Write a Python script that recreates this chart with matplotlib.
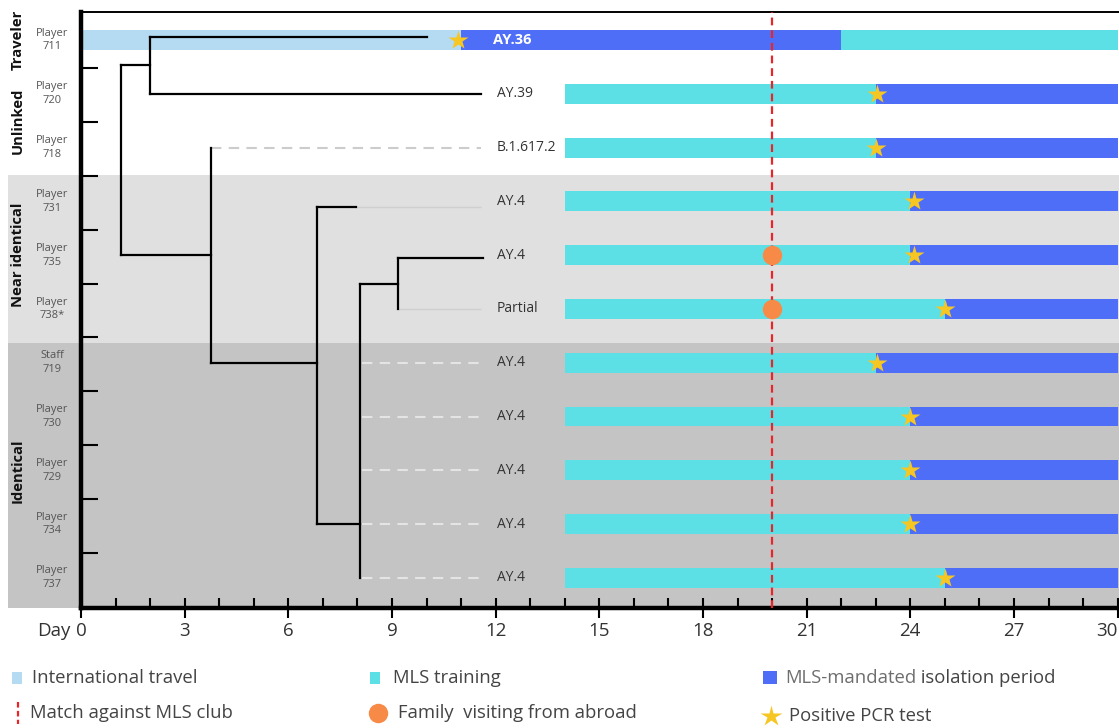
import numpy as np
import matplotlib
matplotlib.use('Agg')
import matplotlib.pyplot as plt
from matplotlib.patches import Rectangle

plt.rcParams['font.family'] = ['Open Sans', 'DejaVu Sans']

# samples, top to bottom
samples = ['Player\n711', 'Player\n720', 'Player\n718', 'Player\n731', 'Player\n735',
           'Player\n738*', 'Staff\n719', 'Player\n730', 'Player\n729', 'Player\n734', 'Player\n737']
lineages = ['AY.36', 'AY.39', 'B.1.617.2', 'AY.4', 'AY.4', 'Partial',
            'AY.4', 'AY.4', 'AY.4', 'AY.4', 'AY.4']

groups = ['Traveler', 'Unlinked', 'Near identical', 'Identical']
group_rows = [[0], [1, 2], [3, 4, 5], [6, 7, 8, 9, 10]]

# timeline (days)
travel_row = [0]
travel_start = [0]
travel_end = [11]
training_start = [22, 14, 14, 14, 14, 14, 14, 14, 14, 14, 14]
training_end = [30, 23, 23, 24, 24, 25, 23, 24, 24, 24, 25]
isolation_start = [11, 23, 23, 24, 24, 25, 23, 24, 24, 24, 25]
isolation_end = [22, 30, 30, 30, 30, 30, 30, 30, 30, 30, 30]
pcr_day = [10.9, 23.05, 23.0, 24.1, 24.1, 25.0, 23.05, 24.0, 24.0, 24.0, 25.0]
family_rows = [4, 5]
family_day = [20, 20]
match_day = 20

# tree: horizontal branches (y, x0, x1) and vertical joins (x, y0, y1)
h_y = [-0.05, 1, 0.47, 4.0, 6.0, 3.1, 9.0, 4.53, 4.05]
h_x0 = [2.0, 2.0, 1.17, 1.17, 3.75, 6.83, 6.83, 8.07, 9.17]
h_x1 = [10.0, 11.58, 2.0, 3.75, 6.83, 7.96, 8.07, 9.17, 11.62]
v_x = [2.0, 1.17, 3.75, 6.83, 8.07, 9.17]
v_y0 = [-0.05, 0.47, 2, 3.1, 4.53, 4.05]
v_y1 = [1, 4.0, 6, 9, 10, 5]
# unresolved leaves
faint_y = [3.1, 5]
faint_x0 = [7.96, 9.17]
faint_x1 = [11.58, 11.58]
dash_y = [2, 6, 7, 8, 9, 10]
dash_x0 = [3.75, 8.12, 8.12, 8.12, 8.12, 8.12]
dash_x1 = [11.58, 11.58, 11.58, 11.58, 11.58, 11.58]
dash_col = ['#cccccc', '#e4e4e4', '#e4e4e4', '#e4e4e4', '#e4e4e4', '#e4e4e4']

C_TRAVEL = '#b4dbf1'
C_TRAIN = '#5ce0e6'
C_ISO = '#4f6ef7'
C_STAR = '#f6c623'
C_FAMILY = '#f88a48'
C_MATCH = '#e8262a'

W, H = 1119, 728
fig = plt.figure(figsize=(W / 100, H / 100), dpi=100)
ax = fig.add_axes([81 / W, 1 - 608 / H, 1 - 81 / W, 596 / H])
ax.set_xlim(0, 30.04)
ax.set_ylim(10.56, -0.52)

# background bands
ax.axhspan(2.51, 5.63, xmin=-0.0705, xmax=1, color='#e0e0e0', lw=0, zorder=0, clip_on=False)
ax.axhspan(5.63, 10.56, xmin=-0.0705, xmax=1, color='#c4c4c4', lw=0, zorder=0, clip_on=False)

rows = np.arange(len(samples))
bh = 0.37
ax.barh(travel_row, np.subtract(travel_end, travel_start), left=travel_start,
        height=bh, color=C_TRAVEL, zorder=2)
ax.barh(rows, np.subtract(training_end, training_start), left=training_start,
        height=bh, color=C_TRAIN, zorder=2)
ax.barh(rows, np.subtract(isolation_end, isolation_start), left=isolation_start,
        height=bh, color=C_ISO, zorder=2)

ax.axvline(match_day, color=C_MATCH, lw=1.6, ls=(0, (3.5, 2.2)), zorder=3)
ax.plot(family_day, family_rows, 'o', ms=14, color=C_FAMILY, mec='none', zorder=4)
ax.plot(pcr_day, rows, '*', ms=15, color=C_STAR, mec='none', zorder=5)

# tree
ax.hlines(faint_y, faint_x0, faint_x1, color='#cfcfcf', lw=1.0, zorder=3)
for y, x0, x1, c in zip(dash_y, dash_x0, dash_x1, dash_col):
    ax.plot([x0, x1], [y, y], color=c, lw=1.5, ls=(0, (5, 3.5)), zorder=3)
ax.hlines(h_y, h_x0, h_x1, color='black', lw=1.6, capstyle='projecting', zorder=4)
ax.vlines(v_x, v_y0, v_y1, color='black', lw=1.6, capstyle='projecting', zorder=4)

for i, lab in enumerate(lineages):
    if i == 0:
        ax.text(11.93, i, lab, color='white', fontsize=10.5, fontweight='bold',
                va='center', ha='left', zorder=6)
    else:
        ax.text(12.04, i, lab, color='#333333', fontsize=10, va='center', ha='left', zorder=6)

ytr = ax.get_yaxis_transform()
for i, s in enumerate(samples):
    ax.text(-0.028, i, s, transform=ytr, ha='center', va='center', fontsize=8,
            color='#555555', linespacing=1.35)
for g, r in zip(groups, group_rows):
    ax.text(-0.061, np.mean(r), g, transform=ytr, rotation=90, ha='center', va='center',
            fontsize=10.6, fontweight='bold', color='#111111')

# axes styling
ax.spines['right'].set_visible(False)
ax.spines['left'].set_linewidth(3.2)
ax.spines['bottom'].set_linewidth(3.2)
ax.spines['top'].set_linewidth(1.4)
ax.set_xticks(np.arange(0, 31, 3))
ax.set_xticklabels([str(d) for d in range(0, 31, 3)])
ax.set_xticks(np.arange(0, 31), minor=True)
ax.tick_params(axis='x', which='major', direction='inout', length=14, width=1.5,
               labelsize=13.5, labelcolor='#333333', pad=3)
ax.tick_params(axis='x', which='minor', direction='in', length=7.5, width=1.5)
ax.get_xticklabels()[-1].set_ha('right')
ax.set_yticks(np.arange(10) + 0.53)
ax.set_yticklabels([])
ax.tick_params(axis='y', direction='in', length=12, width=1.5)
lbl0 = ax.get_xticklabels()[0]
ax.annotate('Day', xy=(0, 0), xycoords=lbl0, xytext=(-4, 0), textcoords='offset points',
            ha='right', va='bottom', fontsize=13.5, color='#333333')

# legend, in pixel space
lax = fig.add_axes([0, 0, 1, 1], zorder=-1)
lax.set_xlim(0, W)
lax.set_ylim(H, 0)
lax.axis('off')
fs = 13.3
lt = dict(fontsize=fs, color='#444444', va='center', ha='left')
lax.add_patch(Rectangle((12, 672), 10, 12, color=C_TRAVEL, lw=0))
lax.text(32, 678, 'International travel', **lt)
lax.add_patch(Rectangle((370, 672), 10, 12, color=C_TRAIN, lw=0))
lax.text(393, 678, 'MLS training', **lt)
lax.add_patch(Rectangle((763, 671), 14, 13, color=C_ISO, lw=0))
t1 = lax.text(785, 678, 'MLS-mandated', fontsize=fs, color='#6e6e6e', va='center', ha='left')
lax.annotate(' isolation period', xy=(1, 0), xycoords=t1, ha='left', va='bottom',
             fontsize=fs, color='#444444')
lax.plot([18, 18], [702, 724], color=C_MATCH, lw=1.6, ls=(0, (2.5, 1.5)))
lax.text(30, 713, 'Match against MLS club', **lt)
lax.plot([378], [713], 'o', ms=14, color=C_FAMILY, mec='none')
lax.text(398, 713, 'Family  visiting from abroad', **lt)
lax.plot([771], [716], '*', ms=16, color=C_STAR, mec='none')
lax.text(789, 716, 'Positive PCR test', **lt)

fig.savefig('out.png', dpi=100, facecolor='white')
